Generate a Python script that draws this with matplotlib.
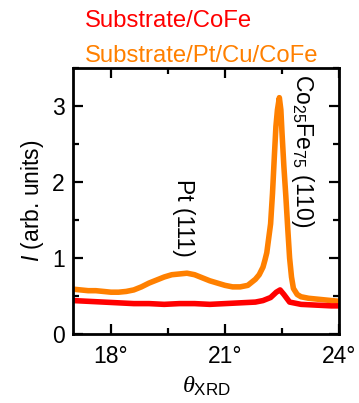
import matplotlib
matplotlib.use("Agg")
import matplotlib.pyplot as plt
from matplotlib.ticker import MultipleLocator, FuncFormatter

plt.rcParams['font.family'] = ['Liberation Sans', 'DejaVu Sans']
plt.rcParams['mathtext.fontset'] = 'custom'
plt.rcParams['mathtext.rm'] = 'Liberation Sans'
plt.rcParams['mathtext.sf'] = 'Liberation Sans'
plt.rcParams['mathtext.it'] = 'Liberation Serif:italic'
plt.rcParams['mathtext.bf'] = 'Liberation Sans:italic'

# --- data ---
theta_orange = [17.0, 17.2, 17.4, 17.6, 17.8, 18.0, 18.2, 18.4, 18.6, 18.8,
                19.0, 19.2, 19.4, 19.6, 19.8, 20.0, 20.2, 20.4, 20.6, 20.8,
                21.0, 21.2, 21.4, 21.6, 21.8, 21.9, 22.0, 22.05, 22.1, 22.2,
                22.25, 22.3, 22.34, 22.38, 22.43, 22.47, 22.5, 22.55, 22.6, 22.65,
                22.7, 22.75, 22.8, 22.9, 23.0, 23.2, 23.4, 23.6, 23.8, 24.0]
I_orange = [0.59, 0.58, 0.57, 0.57, 0.56, 0.55, 0.55, 0.56, 0.58, 0.62,
            0.67, 0.71, 0.75, 0.78, 0.79, 0.80, 0.78, 0.74, 0.70, 0.67,
            0.64, 0.62, 0.62, 0.64, 0.72, 0.78, 0.88, 0.97, 1.07, 1.45,
            1.85, 2.35, 2.73, 2.95, 3.11, 2.95, 2.65, 2.20, 1.82, 1.40,
            1.00, 0.75, 0.60, 0.52, 0.49, 0.47, 0.46, 0.45, 0.44, 0.43]

theta_red = [17.0, 17.4, 17.8, 18.2, 18.6, 19.0, 19.4, 19.8, 20.2, 20.6,
             21.0, 21.4, 21.8, 22.0, 22.2, 22.35, 22.45, 22.55, 22.7, 23.0,
             23.4, 23.8, 24.0]
I_red = [0.44, 0.43, 0.42, 0.41, 0.40, 0.40, 0.39, 0.40, 0.40, 0.39,
         0.40, 0.41, 0.42, 0.44, 0.48, 0.55, 0.58, 0.52, 0.42, 0.39,
         0.38, 0.37, 0.37]

x_ticks = [18, 21, 24]
y_ticks = [0, 1, 2, 3]
labels = ["Substrate/CoFe", "Substrate/Pt/Cu/CoFe"]
c_red = "#ff0000"
c_orange = "#ff8000"

fig = plt.figure(figsize=(3.59, 4.03), dpi=100)
ax = fig.add_axes([73/359, 1-334/403, 266/359, 266/403])

ax.plot(theta_orange, I_orange, color=c_orange, lw=4.0, solid_joinstyle='round')
ax.plot(theta_red, I_red, color=c_red, lw=4.0, solid_joinstyle='round')

ax.set_xlim(17, 24)
ax.set_ylim(0, 3.5)
ax.set_xticks(x_ticks)
ax.set_yticks(y_ticks)
ax.xaxis.set_minor_locator(MultipleLocator(1.5))
ax.yaxis.set_minor_locator(MultipleLocator(0.5))
ax.xaxis.set_major_formatter(FuncFormatter(lambda v, p: f"{v:g}°"))

for s in ax.spines.values():
    s.set_linewidth(2.0)
ax.tick_params(which='both', direction='in', top=True, right=True, width=1.6)
ax.tick_params(which='major', length=7.5, labelsize=16.5)
ax.tick_params(axis='x', which='major', pad=8)
ax.tick_params(axis='y', which='major', pad=6)
ax.tick_params(which='minor', length=4.3)

ax.set_xlabel(r'$\theta_{\mathrm{XRD}}$', fontsize=17.5, labelpad=5)
ax.set_ylabel(r'$\mathbf{I}$ (arb. units)', fontsize=16.5, labelpad=4)

ax.text(19.9, 1.53, "Pt (111)", rotation=270, ha='center', va='center', fontsize=16.5)
ax.text(23.05, 3.42, r'$\mathrm{Co}_{\mathrm{25}}\mathrm{Fe}_{\mathrm{75}}$ (110)',
        rotation=270, ha='center', va='top', fontsize=16.5)

fig.text(85/359, 1-27/403, labels[0], color=c_red, fontsize=17.2, ha='left', va='baseline')
fig.text(85/359, 1-62/403, labels[1], color=c_orange, fontsize=17.2, ha='left', va='baseline')

fig.savefig("out.png", dpi=100)
